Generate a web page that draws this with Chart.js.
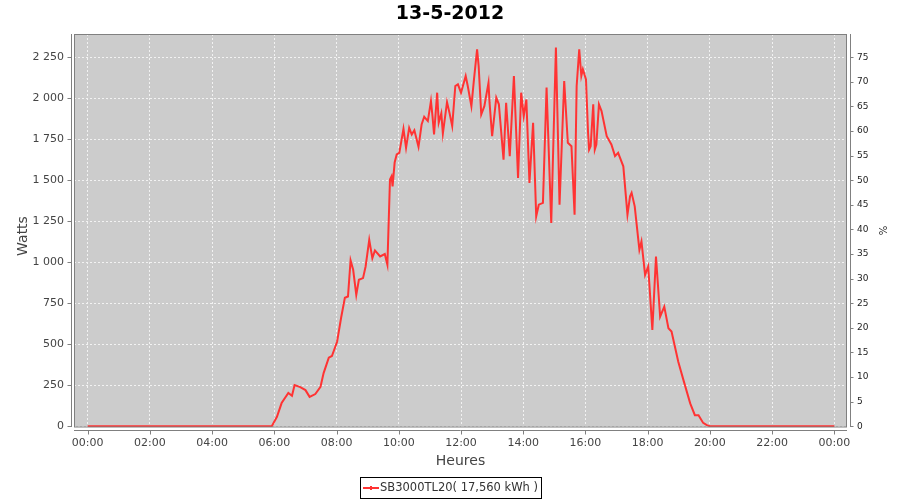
<!DOCTYPE html>
<html><head><meta charset="utf-8">
<script src="https://cdn.jsdelivr.net/npm/chart.js@4.4.1/dist/chart.umd.min.js"></script>
<style>html,body{margin:0;padding:0;background:#fff;}#wrap{width:900px;height:500px;position:relative;}</style>
</head><body><div id="wrap"><canvas id="c" width="900" height="500"></canvas></div>
<script>
const chartTitle = '13-5-2012';
const seriesName = 'SB3000TL20( 17,560 kWh )';
const xTitle = 'Heures';
const yTitle = 'Watts';
const y2Title = '%';

const times = ['00:00','05:55','06:05','06:14','06:27','06:34','06:39','06:50','07:00','07:08','07:19','07:29','07:35','07:45','07:51',
'08:01','08:09','08:16','08:22','08:27','08:32','08:38','08:43','08:51','08:56','09:03','09:09','09:14','09:24','09:33','09:38',
'09:43','09:46','09:48','09:52','09:56','10:01','10:09','10:14','10:20','10:25','10:30','10:38','10:44','10:49','10:56',
'11:02','11:05','11:08','11:14','11:17','11:22','11:25','11:33','11:38','11:43','11:49','11:54','12:00','12:09','12:13','12:20',
'12:25','12:31','12:34','12:39','12:45','12:53','12:55','13:00','13:08','13:13','13:22','13:27','13:34','13:42','13:50','13:56',
'14:01','14:06','14:12','14:19','14:25','14:30','14:38','14:45','14:54','15:03','15:10','15:19','15:26','15:33','15:39','15:43',
'15:48','15:52','15:55','16:01','16:05','16:07','16:10','16:15','16:18','16:21','16:26','16:31','16:41','16:50','16:57','17:03',
'17:13','17:21','17:26','17:29','17:35','17:44','17:48','17:55','18:01','18:09','18:16','18:24','18:32','18:40','18:46','18:59',
'19:09','19:22','19:31','19:38','19:47','19:54','20:00','24:00'];
const watts = [0,0,57,141,202,185,251,238,220,179,196,240,324,418,428,
515,666,783,791,1011,954,801,893,903,974,1137,1025,1072,1035,1050,984,
1504,1524,1463,1608,1657,1667,1814,1698,1820,1779,1805,1704,1840,1887,1861,
1983,1891,1779,2034,1851,1908,1785,1977,1908,1830,2075,2085,2034,2136,2075,1952,
2115,2299,2197,1901,1952,2095,1973,1769,2004,1963,1626,1973,1647,2136,1514,2034,
1891,1993,1484,1851,1280,1351,1362,2065,1239,2309,1351,2105,1728,1708,1290,2075,
2299,2136,2177,2115,1790,1687,1708,1963,1687,1718,1963,1922,1769,1718,1647,1667,
1585,1290,1402,1423,1341,1076,1127,923,974,587,1035,668,729,597,577,393,
281,139,67,67,20,6,0,0];

const hourTicks = ['00:00','02:00','04:00','06:00','08:00','10:00','12:00','14:00','16:00','18:00','20:00','22:00','00:00'];
const wattTicks = [0,250,500,750,1000,1250,1500,1750,2000,2250];
const pctTicks = [0,5,10,15,20,25,30,35,40,45,50,55,60,65,70,75];

const toMin = t => { const p = t.split(':').map(Number); return p[0]*60 + p[1]; };
const points = times.map((t,i) => ({x: toMin(t), y: watts[i]}));
const fmtW = v => v >= 1000 ? Math.floor(v/1000) + ' ' + String(v % 1000).padStart(3,'0') : String(v);

const Y_MIN = -5, Y_MAX = 2392, PCT = 30;

const decor = {
  id: 'decor',
  beforeDraw(chart) {
    const {ctx, chartArea: a} = chart;
    ctx.save();
    ctx.fillStyle = '#cccccc';
    ctx.fillRect(a.left, a.top, a.right - a.left, a.bottom - a.top);
    ctx.restore();
  },
  afterDraw(chart) {
    const {ctx, chartArea: a, scales} = chart;
    ctx.save();
    ctx.strokeStyle = '#808080';
    ctx.lineWidth = 1;
    ctx.strokeRect(a.left + 0.5, a.top + 0.5, a.right - a.left - 1, a.bottom - a.top - 0.5);
    ctx.beginPath();
    const lx = a.left - 2.5;
    ctx.moveTo(lx, a.top); ctx.lineTo(lx, a.bottom);
    scales.y.ticks.forEach(t => { const py = Math.round(scales.y.getPixelForValue(t.value)) + 0.5; ctx.moveTo(lx - 4, py); ctx.lineTo(lx, py); });
    const by = a.bottom + 3.5;
    ctx.moveTo(a.left, by); ctx.lineTo(a.right, by);
    scales.x.ticks.forEach(t => { const px = Math.round(scales.x.getPixelForValue(t.value)) + 0.5; ctx.moveTo(px, by); ctx.lineTo(px, by + 4); });
    const rx = a.right + 3.5;
    ctx.moveTo(rx, a.top); ctx.lineTo(rx, a.bottom);
    scales.y2.ticks.forEach(t => { const py = Math.round(scales.y2.getPixelForValue(t.value)) + 0.5; ctx.moveTo(rx, py); ctx.lineTo(rx + 3, py); });
    ctx.stroke();
    // title
    ctx.fillStyle = '#000';
    ctx.font = 'bold 19px "DejaVu Sans"';
    ctx.textAlign = 'center';
    ctx.textBaseline = 'middle';
    ctx.fillText(chartTitle, 450, 14);
    // y axis title
    ctx.save();
    ctx.translate(23, 236);
    ctx.rotate(-Math.PI / 2);
    ctx.fillStyle = '#444';
    ctx.font = '14px "DejaVu Sans"';
    ctx.fillText(yTitle, 0, 0);
    ctx.restore();
    // legend
    ctx.strokeStyle = '#000';
    ctx.strokeRect(360.5, 477.5, 181, 21);
    ctx.strokeStyle = '#ff3333';
    ctx.lineWidth = 2;
    ctx.beginPath(); ctx.moveTo(363, 488); ctx.lineTo(379, 488); ctx.stroke();
    ctx.fillStyle = '#ff3333';
    ctx.fillRect(370, 486, 2, 4);
    ctx.fillStyle = '#333';
    ctx.font = '11.5px "DejaVu Sans"';
    ctx.textAlign = 'left';
    ctx.fillText(seriesName, 380, 488.5);
    ctx.restore();
  }
};

new Chart(document.getElementById('c'), {
  type: 'line',
  data: { datasets: [{ label: seriesName, data: points, borderColor: '#ff3333', borderWidth: 2, pointRadius: 0, tension: 0, fill: false, yAxisID: 'y' }] },
  options: {
    responsive: false, animation: false, devicePixelRatio: 1,
    layout: { padding: { top: 34, left: 0, right: 0, bottom: 0 } },
    plugins: { legend: { display: false }, title: { display: false }, tooltip: { enabled: false } },
    scales: {
      x: {
        type: 'linear', min: -26.4, max: 1464.4,
        afterBuildTicks: s => { s.ticks = hourTicks.map((l, i) => ({ value: i * 120 })); },
        afterFit: s => { s.height = 73; },
        ticks: { autoSkip: false, maxRotation: 0, padding: 10, color: '#444', font: { family: 'DejaVu Sans', size: 11 }, callback: (v, i) => hourTicks[i] },
        grid: { color: '#f2f2f2', lineWidth: 1, drawTicks: false },
        border: { display: false, dash: [2, 2] },
        title: { display: true, text: xTitle, color: '#444', font: { family: 'DejaVu Sans', size: 14 }, padding: { top: 0, bottom: 30 } }
      },
      y: {
        position: 'left', min: Y_MIN, max: Y_MAX,
        afterBuildTicks: s => { s.ticks = wattTicks.map(v => ({ value: v })); },
        afterFit: s => { s.width = 74; },
        ticks: { padding: 10, color: '#444', font: { family: 'DejaVu Sans', size: 11 }, callback: v => fmtW(v) },
        grid: { color: '#f2f2f2', lineWidth: 1, drawTicks: false },
        border: { display: false, dash: [2, 2] },
        title: { display: false, text: yTitle }
      },
      y2: {
        position: 'right', min: Y_MIN / PCT, max: Y_MAX / PCT,
        afterBuildTicks: s => { s.ticks = pctTicks.map(v => ({ value: v })); },
        afterFit: s => { s.width = 53; },
        ticks: { padding: 10, color: '#222', font: { family: 'DejaVu Sans', size: 9 }, callback: v => String(v) },
        grid: { display: false, drawTicks: false },
        border: { display: false },
        title: { display: true, text: y2Title, color: '#222', font: { family: 'DejaVu Sans', size: 10 }, padding: { top: 12, bottom: 0 } }
      }
    }
  },
  plugins: [decor]
});
</script></body></html>
